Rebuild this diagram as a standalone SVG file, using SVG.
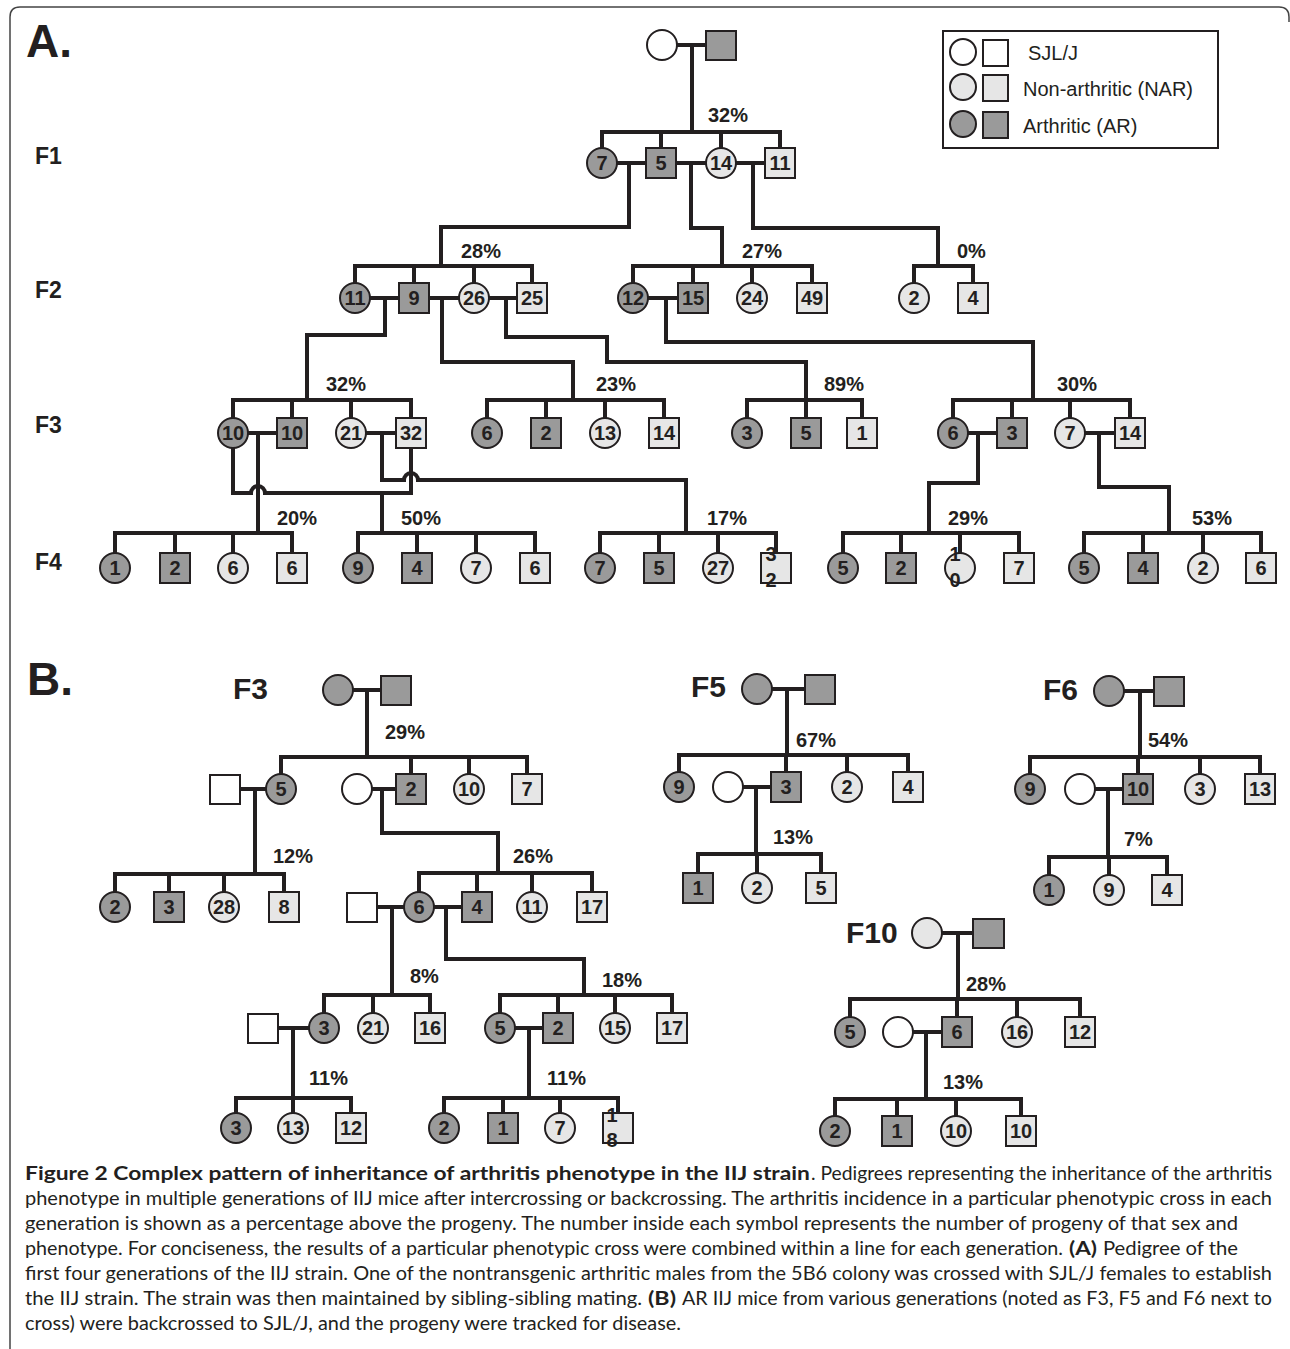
<svg xmlns="http://www.w3.org/2000/svg" width="1290" height="1349" viewBox="0 0 1290 1349">
<style>
.ln{fill:none;stroke:#231f20;stroke-width:4;stroke-linejoin:miter}
.s{stroke:#231f20;stroke-width:2}
.ar{fill:#9a9a9a}
.na{fill:#e6e6e6}
.wt{fill:#fff}
.n{font-family:"Liberation Sans",Arial,sans-serif;font-weight:bold;font-size:20px;fill:#231f20;text-anchor:middle}
.p{font-family:"Liberation Sans",Arial,sans-serif;font-weight:bold;font-size:20px;fill:#231f20}
.g{font-family:"Liberation Sans",Arial,sans-serif;font-weight:bold;font-size:23px;fill:#231f20}
.g2{font-family:"Liberation Sans",Arial,sans-serif;font-weight:bold;font-size:30px;fill:#231f20}
.big{font-family:"Liberation Sans",Arial,sans-serif;font-weight:bold;font-size:46px;fill:#231f20}
.lg{font-family:"Liberation Sans",Arial,sans-serif;font-size:20px;fill:#231f20}
.cap{font-family:Lato,"Open Sans",sans-serif;font-size:18.5px;fill:#231f20}
.b{font-weight:bold}
</style>
<rect width="1290" height="1349" fill="#fff"/>
<path d="M10 1349 V17 Q10 7 20 7 H1279 Q1289 7 1289 17 V22" fill="none" stroke="#444" stroke-width="1.5"/>
<text class="big" x="26" y="57">A.</text>
<text class="big" x="27" y="695">B.</text>
<text class="g" x="35" y="164">F1</text>
<text class="g" x="35" y="298">F2</text>
<text class="g" x="35" y="433">F3</text>
<text class="g" x="35" y="570">F4</text>
<text class="g2" x="233" y="699">F3</text>
<text class="g2" x="691" y="697">F5</text>
<text class="g2" x="1043" y="700">F6</text>
<text class="g2" x="846" y="943">F10</text>

<g id="legend">
<rect x="943" y="31" width="275" height="117" fill="#fff" stroke="#231f20" stroke-width="2"/>
<circle class="s wt" cx="963" cy="52" r="13"/><rect class="s wt" x="983" y="40" width="25" height="26"/>
<circle class="s na" cx="963" cy="87" r="13"/><rect class="s na" x="983" y="75" width="25" height="26"/>
<circle class="s ar" cx="963" cy="124" r="13"/><rect class="s ar" x="983" y="112" width="25" height="26"/>
<text class="lg" x="1028" y="60">SJL/J</text>
<text class="lg" x="1023" y="96">Non-arthritic (NAR)</text>
<text class="lg" x="1023" y="133">Arthritic (AR)</text>
</g>

<g id="connectors" class="ln">
<path d="M677 45 H706 M692 45 V132"/>
<path d="M602 148 V132 H780 V148 M661 132 V148 M721 132 V148"/>
<path d="M617 163 H646 M676 163 H706 M736 163 H765"/>
<path d="M629 163 V227 H441 V266"/>
<path d="M691 163 V228 H722 V266"/>
<path d="M753 163 V228 H938 V266"/>
<path d="M355 283 V266 H532 V283 M414 266 V283 M474 266 V283"/>
<path d="M633 283 V266 H812 V283 M693 266 V283 M752 266 V283"/>
<path d="M914 283 V266 H973 V283"/>
<path d="M370 298 H399 M429 298 H459 M489 298 H517 M648 298 H678"/>
<path d="M385 298 V335 H307 V400"/>
<path d="M442 298 V362 H573 V400"/>
<path d="M506 298 V337 H607 V362 H806 V400"/>
<path d="M666 298 V342 H1033 V400"/>
<path d="M233 418 V400 H411 V418 M292 400 V418 M351 400 V418"/>
<path d="M487 418 V400 H664 V418 M546 400 V418 M605 400 V418"/>
<path d="M747 418 V400 H862 V418 M806 400 V418"/>
<path d="M953 418 V400 H1130 V418 M1012 400 V418 M1070 400 V418"/>
<path d="M248 433 H277 M366 433 H396 M968 433 H997 M1085 433 H1115"/>
<path d="M258 433 V533"/>
<path d="M233 448 V493 H251 A7 7 0 0 1 265 493 H411 V448"/>
<path d="M382 433 V480 H404 A7 7 0 0 1 418 480 H686 V533"/>
<path d="M382 493 V533"/>
<path d="M978 433 V483 H929 V533"/>
<path d="M1099 433 V487 H1169 V533"/>
<path d="M115 553 V533 H292 V553 M175 533 V553 M233 533 V553"/>
<path d="M358 553 V533 H535 V553 M417 533 V553 M476 533 V553"/>
<path d="M600 553 V533 H776 V553 M659 533 V553 M718 533 V553"/>
<path d="M843 553 V533 H1019 V553 M901 533 V553 M960 533 V553"/>
<path d="M1084 553 V533 H1261 V553 M1143 533 V553 M1203 533 V553"/>
<path d="M353 690 H381 M367 690 V757"/>
<path d="M281 774 V757 H527 V774 M411 757 V774 M469 757 V774"/>
<path d="M240 789 H266 M255 789 V874"/>
<path d="M372 789 H396 M382 789 V833 H498 V873"/>
<path d="M115 892 V874 H284 V892 M169 874 V892 M224 874 V892"/>
<path d="M419 892 V873 H592 V892 M477 873 V892 M532 873 V892"/>
<path d="M377 907 H404 M392 907 V995"/>
<path d="M434 907 H462 M446 907 V959 H584 V995"/>
<path d="M324 1013 V995 H430 V1013 M373 995 V1013"/>
<path d="M500 1013 V995 H672 V1013 M558 995 V1013 M615 995 V1013"/>
<path d="M278 1028 H309 M293 1028 V1098"/>
<path d="M515 1028 H543 M529 1028 V1098"/>
<path d="M236 1113 V1098 H351 V1113 M293 1098 V1113"/>
<path d="M444 1113 V1098 H618 V1113 M503 1098 V1113 M560 1098 V1113"/>
<path d="M772 689 H805 M787 689 V755"/>
<path d="M679 772 V755 H908 V772 M786 755 V772 M847 755 V772"/>
<path d="M743 787 H771 M756 787 V854"/>
<path d="M698 873 V854 H821 V873 M757 854 V873"/>
<path d="M1124 691 H1154 M1140 691 V757"/>
<path d="M1030 774 V757 H1260 V774 M1138 757 V774 M1200 757 V774"/>
<path d="M1095 789 H1123 M1108 789 V857"/>
<path d="M1049 875 V857 H1167 V875 M1109 857 V875"/>
<path d="M942 933 H973 M958 933 V999"/>
<path d="M850 1017 V999 H1080 V1017 M957 999 V1017 M1017 999 V1017"/>
<path d="M913 1032 H942 M926 1032 V1099"/>
<path d="M835 1116 V1099 H1021 V1116 M897 1099 V1116 M956 1099 V1116"/>
</g>

<g id="percentages" class="p">
<text x="708" y="122">32%</text>
<text x="461" y="258">28%</text>
<text x="742" y="258">27%</text>
<text x="957" y="258">0%</text>
<text x="326" y="391">32%</text>
<text x="596" y="391">23%</text>
<text x="824" y="391">89%</text>
<text x="1057" y="391">30%</text>
<text x="277" y="525">20%</text>
<text x="401" y="525">50%</text>
<text x="707" y="525">17%</text>
<text x="948" y="525">29%</text>
<text x="1192" y="525">53%</text>
<text x="385" y="739">29%</text>
<text x="273" y="863">12%</text>
<text x="513" y="863">26%</text>
<text x="410" y="983">8%</text>
<text x="602" y="987">18%</text>
<text x="309" y="1085">11%</text>
<text x="547" y="1085">11%</text>
<text x="796" y="747">67%</text>
<text x="773" y="844">13%</text>
<text x="1148" y="747">54%</text>
<text x="1124" y="846">7%</text>
<text x="966" y="991">28%</text>
<text x="943" y="1089">13%</text>
</g>

<g id="a-p-f"><circle class="s wt" cx="662" cy="45" r="15"/></g>
<g id="a-p-m"><rect class="s ar" x="706" y="31" width="30" height="29"/></g>
<g id="a1-f7"><circle class="s ar" cx="602" cy="163" r="15"/><text class="n" x="602" y="170">7</text></g>
<g id="a1-m5"><rect class="s ar" x="646" y="148" width="30" height="30"/><text class="n" x="661" y="170">5</text></g>
<g id="a1-f14"><circle class="s na" cx="721" cy="163" r="15"/><text class="n" x="721" y="170">14</text></g>
<g id="a1-m11"><rect class="s na" x="765" y="148" width="30" height="30"/><text class="n" x="780" y="170">11</text></g>

<g id="a2-f11"><circle class="s ar" cx="355" cy="298" r="15"/><text class="n" x="355" y="305">11</text></g>
<g id="a2-m9"><rect class="s ar" x="399" y="283" width="30" height="30"/><text class="n" x="414" y="305">9</text></g>
<g id="a2-f26"><circle class="s na" cx="474" cy="298" r="15"/><text class="n" x="474" y="305">26</text></g>
<g id="a2-m25"><rect class="s na" x="517" y="283" width="30" height="30"/><text class="n" x="532" y="305">25</text></g>
<g id="a2-f12"><circle class="s ar" cx="633" cy="298" r="15"/><text class="n" x="633" y="305">12</text></g>
<g id="a2-m15"><rect class="s ar" x="678" y="283" width="30" height="30"/><text class="n" x="693" y="305">15</text></g>
<g id="a2-f24"><circle class="s na" cx="752" cy="298" r="15"/><text class="n" x="752" y="305">24</text></g>
<g id="a2-m49"><rect class="s na" x="797" y="283" width="30" height="30"/><text class="n" x="812" y="305">49</text></g>
<g id="a2-f2"><circle class="s na" cx="914" cy="298" r="15"/><text class="n" x="914" y="305">2</text></g>
<g id="a2-m4"><rect class="s na" x="958" y="283" width="30" height="30"/><text class="n" x="973" y="305">4</text></g>

<g id="a3-f10"><circle class="s ar" cx="233" cy="433" r="15"/><text class="n" x="233" y="440">10</text></g>
<g id="a3-m10"><rect class="s ar" x="277" y="418" width="30" height="30"/><text class="n" x="292" y="440">10</text></g>
<g id="a3-f21"><circle class="s na" cx="351" cy="433" r="15"/><text class="n" x="351" y="440">21</text></g>
<g id="a3-m32"><rect class="s na" x="396" y="418" width="30" height="30"/><text class="n" x="411" y="440">32</text></g>
<g id="a3-f6"><circle class="s ar" cx="487" cy="433" r="15"/><text class="n" x="487" y="440">6</text></g>
<g id="a3-m2"><rect class="s ar" x="531" y="418" width="30" height="30"/><text class="n" x="546" y="440">2</text></g>
<g id="a3-f13"><circle class="s na" cx="605" cy="433" r="15"/><text class="n" x="605" y="440">13</text></g>
<g id="a3-m14"><rect class="s na" x="649" y="418" width="30" height="30"/><text class="n" x="664" y="440">14</text></g>
<g id="a3-f3"><circle class="s ar" cx="747" cy="433" r="15"/><text class="n" x="747" y="440">3</text></g>
<g id="a3-m5"><rect class="s ar" x="791" y="418" width="30" height="30"/><text class="n" x="806" y="440">5</text></g>
<g id="a3-m1"><rect class="s na" x="847" y="418" width="30" height="30"/><text class="n" x="862" y="440">1</text></g>
<g id="a3-f6b"><circle class="s ar" cx="953" cy="433" r="15"/><text class="n" x="953" y="440">6</text></g>
<g id="a3-m3"><rect class="s ar" x="997" y="418" width="30" height="30"/><text class="n" x="1012" y="440">3</text></g>
<g id="a3-f7"><circle class="s na" cx="1070" cy="433" r="15"/><text class="n" x="1070" y="440">7</text></g>
<g id="a3-m14b"><rect class="s na" x="1115" y="418" width="30" height="30"/><text class="n" x="1130" y="440">14</text></g>

<g id="a4-f1"><circle class="s ar" cx="115" cy="568" r="15"/><text class="n" x="115" y="575">1</text></g>
<g id="a4-m2"><rect class="s ar" x="160" y="553" width="30" height="30"/><text class="n" x="175" y="575">2</text></g>
<g id="a4-f6"><circle class="s na" cx="233" cy="568" r="15"/><text class="n" x="233" y="575">6</text></g>
<g id="a4-m6"><rect class="s na" x="277" y="553" width="30" height="30"/><text class="n" x="292" y="575">6</text></g>
<g id="a4-f9"><circle class="s ar" cx="358" cy="568" r="15"/><text class="n" x="358" y="575">9</text></g>
<g id="a4-m4"><rect class="s ar" x="402" y="553" width="30" height="30"/><text class="n" x="417" y="575">4</text></g>
<g id="a4-f7"><circle class="s na" cx="476" cy="568" r="15"/><text class="n" x="476" y="575">7</text></g>
<g id="a4-m6b"><rect class="s na" x="520" y="553" width="30" height="30"/><text class="n" x="535" y="575">6</text></g>
<g id="a4-f7b"><circle class="s ar" cx="600" cy="568" r="15"/><text class="n" x="600" y="575">7</text></g>
<g id="a4-m5"><rect class="s ar" x="644" y="553" width="30" height="30"/><text class="n" x="659" y="575">5</text></g>
<g id="a4-f27"><circle class="s na" cx="718" cy="568" r="15"/><text class="n" x="718" y="575">27</text></g>
<g id="a4-m32"><rect class="s na" x="761" y="553" width="30" height="30"/><text class="n" x="771" y="561">3</text><text class="n" x="771" y="587">2</text></g>
<g id="a4-f5"><circle class="s ar" cx="843" cy="568" r="15"/><text class="n" x="843" y="575">5</text></g>
<g id="a4-m2b"><rect class="s ar" x="886" y="553" width="30" height="30"/><text class="n" x="901" y="575">2</text></g>
<g id="a4-f10"><circle class="s na" cx="960" cy="568" r="15"/><text class="n" x="955" y="561">1</text><text class="n" x="955" y="587">0</text></g>
<g id="a4-m7"><rect class="s na" x="1004" y="553" width="30" height="30"/><text class="n" x="1019" y="575">7</text></g>
<g id="a4-f5b"><circle class="s ar" cx="1084" cy="568" r="15"/><text class="n" x="1084" y="575">5</text></g>
<g id="a4-m4b"><rect class="s ar" x="1128" y="553" width="30" height="30"/><text class="n" x="1143" y="575">4</text></g>
<g id="a4-f2"><circle class="s na" cx="1203" cy="568" r="15"/><text class="n" x="1203" y="575">2</text></g>
<g id="a4-m6c"><rect class="s na" x="1246" y="553" width="30" height="30"/><text class="n" x="1261" y="575">6</text></g>

<g id="b3-p-f"><circle class="s ar" cx="338" cy="690" r="15"/></g>
<g id="b3-p-m"><rect class="s ar" x="381" y="676" width="30" height="29"/></g>
<g id="b3-sjl1"><rect class="s wt" x="210" y="775" width="30" height="29"/></g>
<g id="b3-f5"><circle class="s ar" cx="281" cy="789" r="15"/><text class="n" x="281" y="796">5</text></g>
<g id="b3-sjl2"><circle class="s wt" cx="357" cy="789" r="15"/></g>
<g id="b3-m2"><rect class="s ar" x="396" y="774" width="30" height="30"/><text class="n" x="411" y="796">2</text></g>
<g id="b3-f10"><circle class="s na" cx="469" cy="789" r="15"/><text class="n" x="469" y="796">10</text></g>
<g id="b3-m7"><rect class="s na" x="512" y="774" width="30" height="30"/><text class="n" x="527" y="796">7</text></g>
<g id="b3-f2"><circle class="s ar" cx="115" cy="907" r="15"/><text class="n" x="115" y="914">2</text></g>
<g id="b3-m3"><rect class="s ar" x="154" y="892" width="30" height="30"/><text class="n" x="169" y="914">3</text></g>
<g id="b3-f28"><circle class="s na" cx="224" cy="907" r="15"/><text class="n" x="224" y="914">28</text></g>
<g id="b3-m8"><rect class="s na" x="269" y="892" width="30" height="30"/><text class="n" x="284" y="914">8</text></g>
<g id="b3-sjl3"><rect class="s wt" x="347" y="893" width="30" height="29"/></g>
<g id="b3-f6"><circle class="s ar" cx="419" cy="907" r="15"/><text class="n" x="419" y="914">6</text></g>
<g id="b3-m4"><rect class="s ar" x="462" y="892" width="30" height="30"/><text class="n" x="477" y="914">4</text></g>
<g id="b3-f11"><circle class="s na" cx="532" cy="907" r="15"/><text class="n" x="532" y="914">11</text></g>
<g id="b3-m17"><rect class="s na" x="577" y="892" width="30" height="30"/><text class="n" x="592" y="914">17</text></g>
<g id="b3-sjl4"><rect class="s wt" x="248" y="1014" width="30" height="29"/></g>
<g id="b3-f3"><circle class="s ar" cx="324" cy="1028" r="15"/><text class="n" x="324" y="1035">3</text></g>
<g id="b3-f21"><circle class="s na" cx="373" cy="1028" r="15"/><text class="n" x="373" y="1035">21</text></g>
<g id="b3-m16"><rect class="s na" x="415" y="1013" width="30" height="30"/><text class="n" x="430" y="1035">16</text></g>
<g id="b3-f5b"><circle class="s ar" cx="500" cy="1028" r="15"/><text class="n" x="500" y="1035">5</text></g>
<g id="b3-m2b"><rect class="s ar" x="543" y="1013" width="30" height="30"/><text class="n" x="558" y="1035">2</text></g>
<g id="b3-f15"><circle class="s na" cx="615" cy="1028" r="15"/><text class="n" x="615" y="1035">15</text></g>
<g id="b3-m17b"><rect class="s na" x="657" y="1013" width="30" height="30"/><text class="n" x="672" y="1035">17</text></g>
<g id="b3-f3b"><circle class="s ar" cx="236" cy="1128" r="15"/><text class="n" x="236" y="1135">3</text></g>
<g id="b3-f13"><circle class="s na" cx="293" cy="1128" r="15"/><text class="n" x="293" y="1135">13</text></g>
<g id="b3-m12"><rect class="s na" x="336" y="1113" width="30" height="30"/><text class="n" x="351" y="1135">12</text></g>
<g id="b3-f2b"><circle class="s ar" cx="444" cy="1128" r="15"/><text class="n" x="444" y="1135">2</text></g>
<g id="b3-m1"><rect class="s ar" x="488" y="1113" width="30" height="30"/><text class="n" x="503" y="1135">1</text></g>
<g id="b3-f7"><circle class="s na" cx="560" cy="1128" r="15"/><text class="n" x="560" y="1135">7</text></g>
<g id="b3-m18"><rect class="s na" x="603" y="1113" width="30" height="30"/><text class="n" x="612" y="1122">1</text><text class="n" x="612" y="1147">8</text></g>

<g id="b5-p-f"><circle class="s ar" cx="757" cy="689" r="15"/></g>
<g id="b5-p-m"><rect class="s ar" x="805" y="675" width="30" height="29"/></g>
<g id="b5-f9"><circle class="s ar" cx="679" cy="787" r="15"/><text class="n" x="679" y="794">9</text></g>
<g id="b5-sjl"><circle class="s wt" cx="728" cy="787" r="15"/></g>
<g id="b5-m3"><rect class="s ar" x="771" y="772" width="30" height="30"/><text class="n" x="786" y="794">3</text></g>
<g id="b5-f2"><circle class="s na" cx="847" cy="787" r="15"/><text class="n" x="847" y="794">2</text></g>
<g id="b5-m4"><rect class="s na" x="893" y="772" width="30" height="30"/><text class="n" x="908" y="794">4</text></g>
<g id="b5-m1"><rect class="s ar" x="683" y="873" width="30" height="30"/><text class="n" x="698" y="895">1</text></g>
<g id="b5-f2b"><circle class="s na" cx="757" cy="888" r="15"/><text class="n" x="757" y="895">2</text></g>
<g id="b5-m5"><rect class="s na" x="806" y="873" width="30" height="30"/><text class="n" x="821" y="895">5</text></g>

<g id="b6-p-f"><circle class="s ar" cx="1109" cy="691" r="15"/></g>
<g id="b6-p-m"><rect class="s ar" x="1154" y="677" width="30" height="29"/></g>
<g id="b6-f9"><circle class="s ar" cx="1030" cy="789" r="15"/><text class="n" x="1030" y="796">9</text></g>
<g id="b6-sjl"><circle class="s wt" cx="1080" cy="789" r="15"/></g>
<g id="b6-m10"><rect class="s ar" x="1123" y="774" width="30" height="30"/><text class="n" x="1138" y="796">10</text></g>
<g id="b6-f3"><circle class="s na" cx="1200" cy="789" r="15"/><text class="n" x="1200" y="796">3</text></g>
<g id="b6-m13"><rect class="s na" x="1245" y="774" width="30" height="30"/><text class="n" x="1260" y="796">13</text></g>
<g id="b6-f1"><circle class="s ar" cx="1049" cy="890" r="15"/><text class="n" x="1049" y="897">1</text></g>
<g id="b6-f9b"><circle class="s na" cx="1109" cy="890" r="15"/><text class="n" x="1109" y="897">9</text></g>
<g id="b6-m4"><rect class="s na" x="1152" y="875" width="30" height="30"/><text class="n" x="1167" y="897">4</text></g>

<g id="b10-p-f"><circle class="s na" cx="927" cy="933" r="15"/></g>
<g id="b10-p-m"><rect class="s ar" x="973" y="919" width="31" height="29"/></g>
<g id="b10-f5"><circle class="s ar" cx="850" cy="1032" r="15"/><text class="n" x="850" y="1039">5</text></g>
<g id="b10-sjl"><circle class="s wt" cx="898" cy="1032" r="15"/></g>
<g id="b10-m6"><rect class="s ar" x="942" y="1017" width="30" height="30"/><text class="n" x="957" y="1039">6</text></g>
<g id="b10-f16"><circle class="s na" cx="1017" cy="1032" r="15"/><text class="n" x="1017" y="1039">16</text></g>
<g id="b10-m12"><rect class="s na" x="1065" y="1017" width="30" height="30"/><text class="n" x="1080" y="1039">12</text></g>
<g id="b10-f2"><circle class="s ar" cx="835" cy="1131" r="15"/><text class="n" x="835" y="1138">2</text></g>
<g id="b10-m1"><rect class="s ar" x="882" y="1116" width="30" height="30"/><text class="n" x="897" y="1138">1</text></g>
<g id="b10-f10"><circle class="s na" cx="956" cy="1131" r="15"/><text class="n" x="956" y="1138">10</text></g>
<g id="b10-m10"><rect class="s na" x="1006" y="1116" width="30" height="30"/><text class="n" x="1021" y="1138">10</text></g>

<g id="caption" class="cap">
<text class="b" x="25" y="1180" textLength="785" lengthAdjust="spacingAndGlyphs">Figure 2 Complex pattern of inheritance of arthritis phenotype in the IIJ strain</text>
<text x="811" y="1180" textLength="461" lengthAdjust="spacingAndGlyphs">. Pedigrees representing the inheritance of the arthritis</text>
<text x="25" y="1205" textLength="1247" lengthAdjust="spacingAndGlyphs">phenotype in multiple generations of IIJ mice after intercrossing or backcrossing. The arthritis incidence in a particular phenotypic cross in each</text>
<text x="25" y="1230" textLength="1213" lengthAdjust="spacingAndGlyphs">generation is shown as a percentage above the progeny. The number inside each symbol represents the number of progeny of that sex and</text>
<text x="25" y="1255" textLength="1038" lengthAdjust="spacingAndGlyphs">phenotype. For conciseness, the results of a particular phenotypic cross were combined within a line for each generation.</text>
<text class="b" x="1069" y="1255" textLength="28" lengthAdjust="spacingAndGlyphs">(A)</text>
<text x="1103" y="1255" textLength="135" lengthAdjust="spacingAndGlyphs">Pedigree of the</text>
<text x="25" y="1280" textLength="1247" lengthAdjust="spacingAndGlyphs">first four generations of the IIJ strain. One of the nontransgenic arthritic males from the 5B6 colony was crossed with SJL/J females to establish</text>
<text x="25" y="1305" textLength="617" lengthAdjust="spacingAndGlyphs">the IIJ strain. The strain was then maintained by sibling-sibling mating.</text>
<text class="b" x="648" y="1305" textLength="28" lengthAdjust="spacingAndGlyphs">(B)</text>
<text x="682" y="1305" textLength="590" lengthAdjust="spacingAndGlyphs">AR IIJ mice from various generations (noted as F3, F5 and F6 next to</text>
<text x="25" y="1330" textLength="656" lengthAdjust="spacingAndGlyphs">cross) were backcrossed to SJL/J, and the progeny were tracked for disease.</text>
</g>
</svg>
